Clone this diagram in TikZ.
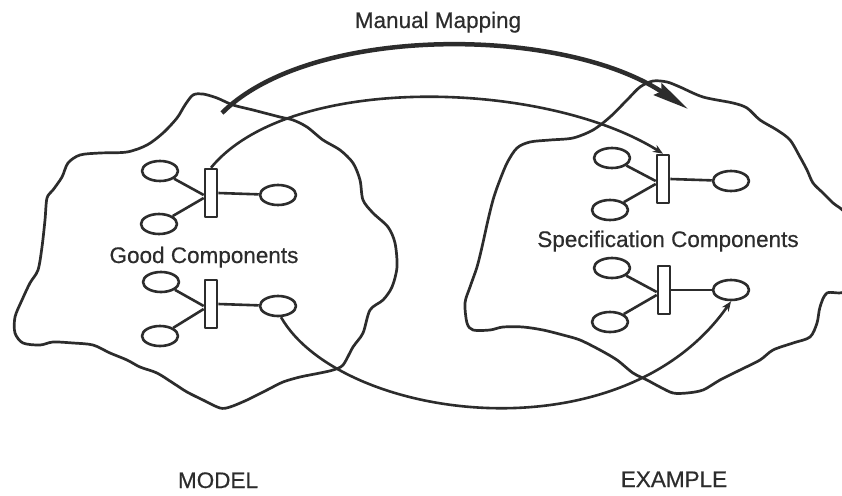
\documentclass[tikz,border=0pt]{standalone}
\usepackage{fontspec}
\setmainfont{Liberation Sans}[BoldFont=Liberation Sans,BoldFeatures={FakeBold=0.5}]
\usetikzlibrary{shapes.geometric,arrows.meta}
\definecolor{ink}{HTML}{2c2c2c}
\begin{document}
\begin{tikzpicture}[x=1pt,y=-1pt,line join=round,
  oval/.style={ellipse,draw=ink,line width=2.6pt,minimum width=36pt,minimum height=20pt,inner sep=0pt},
  cbar/.style={rectangle,draw=ink,line width=2.6pt,minimum width=12pt,minimum height=48pt,inner sep=0pt},
  lbl/.style={text=ink,font=\fontsize{22.5}{26}\selectfont\bfseries,inner sep=0pt,anchor=base},
  blob/.style={draw=ink,line width=2.7pt},
  link/.style={draw=ink,line width=2.6pt},
  conn/.style={draw=ink,line width=2.6pt,-{Stealth[length=10pt,width=8pt]}},
  big/.style={draw=ink,line width=4.5pt,-{Stealth[length=36pt,width=14pt,inset=4pt]}}
]
\useasboundingbox (0,0) rectangle (842,495);
\fill[white] (0,0) rectangle (842,495);
\begin{scope}
\clip (0,0) rectangle (842,495);
% left blob
\draw[blob] plot[smooth cycle,tension=0.5] coordinates {
(203,94) (193,95) (185,105) (177,118) (163,133) (147,145) (127,152) (100,153) (80,155) (68,163) (62,177) (53,190) (47,198) (45,220) (42,247) (38,270) (30,283) (22,300) (15,317) (15,333) (23,343) (40,345) (53,342) (73,343) (93,345) (110,353) (127,360) (140,367) (157,373) (173,383) (187,392) (203,400) (220,408) (230,407) (247,400) (267,390) (283,382) (300,377) (320,373) (333,370) (343,365) (353,347) (363,333) (370,310) (383,300) (392,287) (397,267) (395,243) (388,227) (373,213) (363,200) (360,180) (353,163) (340,150) (323,140) (307,127) (293,120) (280,117) (253,110) (233,105) (217,98)};
% right blob
\draw[blob] plot[smooth cycle,tension=0.5] coordinates {
(653,81) (667,82) (680,87) (703,97) (733,103) (747,108) (760,120) (777,130) (790,140) (800,157) (807,170) (813,183) (823,193) (833,203) (846,215) (852,250) (846,290) (827,293) (820,307) (817,323) (810,337) (793,343) (773,350) (760,360) (740,370) (720,380) (703,390) (687,393) (673,393) (660,387) (647,380) (633,373) (617,360) (600,350) (580,340) (563,335) (543,330) (523,327) (503,327) (490,330) (473,330) (467,323) (465,303) (470,287) (477,267) (482,247) (488,220) (493,200) (498,185) (507,163) (517,148) (530,142) (550,140) (573,138) (593,130) (610,117) (627,100) (640,87)};
\end{scope}

% left top component
\node[cbar] (ltbar) at (211,193) {};
\node[oval] (lta) at (160,171) {};
\node[oval] (ltb) at (159,224) {};
\node[oval] (ltc) at (278,195) {};
\draw[link] (lta) -- ([yshift=-2pt]ltbar.west);
\draw[link] (ltb) -- ([yshift=-5pt]ltbar.west);
\draw[link] (ltbar.east) -- (ltc);
% left bottom component
\node[cbar] (lbbar) at (211,304) {};
\node[oval] (lba) at (161,282) {};
\node[oval] (lbb) at (160,336) {};
\node[oval] (lbc) at (278,306) {};
\draw[link] (lba) -- ([yshift=-2pt]lbbar.west);
\draw[link] (lbb) -- ([yshift=-5pt]lbbar.west);
\draw[link] (lbbar.east) -- (lbc);
% right top component
\node[cbar] (rtbar) at (663,179) {};
\node[oval] (rta) at (612,158) {};
\node[oval] (rtb) at (610,210) {};
\node[oval] (rtc) at (731,181) {};
\draw[link] (rta) -- ([yshift=-2pt]rtbar.west);
\draw[link] (rtb) -- ([yshift=-5pt]rtbar.west);
\draw[link] (rtbar.east) -- (rtc);
% right bottom component
\node[cbar] (rbbar) at (664,290) {};
\node[oval] (rba) at (612,268) {};
\node[oval] (rbb) at (610,322) {};
\node[oval] (rbc) at (731,290) {};
\draw[link] (rba) -- ([yshift=-2pt]rbbar.west);
\draw[link] (rbb) -- ([yshift=-5pt]rbbar.west);
\draw[link] (rbbar.east) -- (rbc);

% labels
\node[lbl] (mm) at (438,28) {Manual Mapping};
\node[lbl] (gc) at (204,263) {Good Components};
\node[lbl] (sc) at (668,247) {Specification Components};
\node[lbl] (model) at (218,488) {MODEL};
\node[lbl] (example) at (674,487) {EXAMPLE};

% mapping arcs
\coordinate (ts) at (222,113);
\coordinate (te) at (688,109);
\draw[big] (ts) .. controls (310,25) and (560,25) .. (te);
\draw[conn] (ltbar.north) .. controls (290,72) and (545,80) .. (rtbar.north);
\draw[conn] (lbc.-75) .. controls (340,420) and (620,460) .. (rbc.south);
\end{tikzpicture}
\end{document}
